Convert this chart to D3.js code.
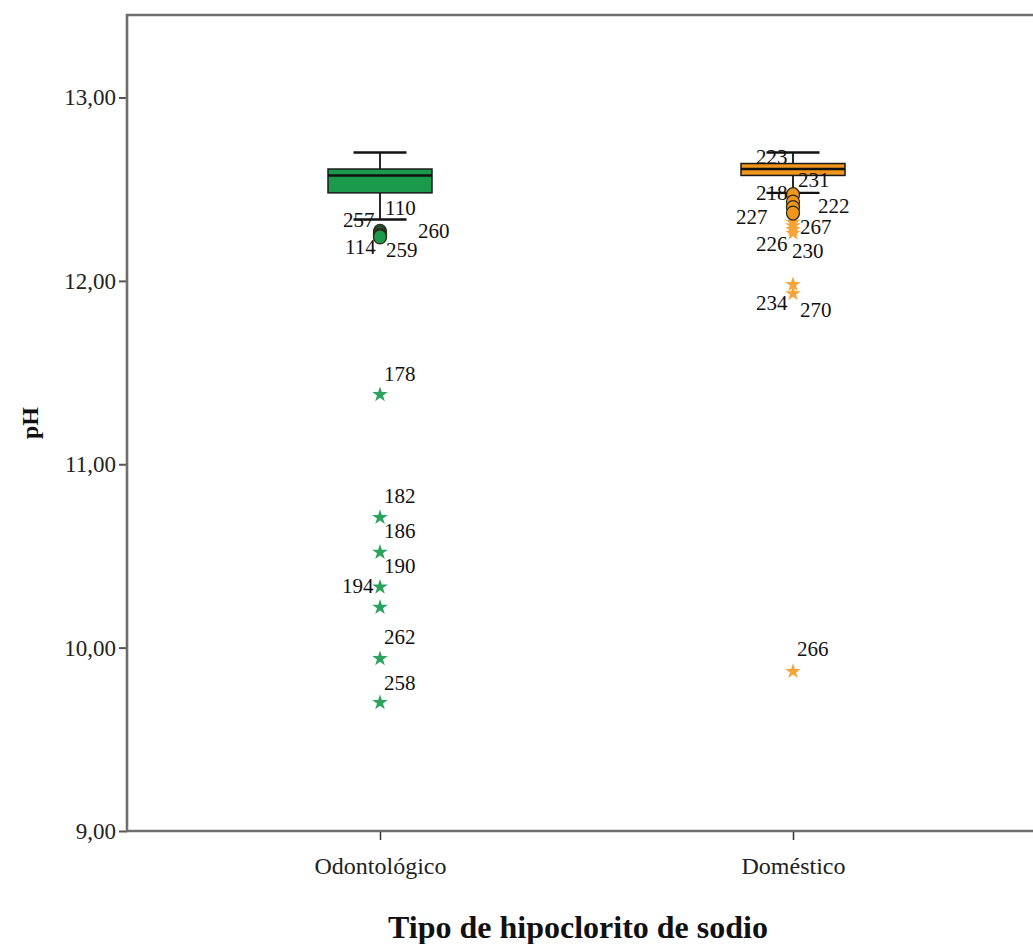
<!doctype html>
<html lang="es">
<head>
  <meta charset="utf-8">
  <title>pH por tipo de hipoclorito</title>
  <style>
    body { margin: 0; background: #fff; }
    svg text { font-family: "Liberation Serif", "DejaVu Serif", serif; }
  </style>
</head>
<body>
  <svg></svg>
  <script src="https://cdn.jsdelivr.net/npm/d3@7"></script>
  <script>
    const width = 1033;
    const height = 944;
    const margin = { top: 15, right: -13, bottom: 113, left: 127 };

    // datos
    const categories = ['Odontológico', 'Doméstico'];
    const whiskerLow = [12.335, 12.48];
    const q1 = [12.48, 12.575];
    const median = [12.575, 12.61];
    const q3 = [12.61, 12.64];
    const whiskerHigh = [12.70, 12.70];
    const yTicks = [9, 10, 11, 12, 13];

    // valores atípicos (círculos) y extremos (estrellas): [categoría, valor, caso]
    const outliers = [
      ['Odontológico', 12.27, '257'],
      ['Odontológico', 12.26, '110'],
      ['Odontológico', 12.25, '260'],
      ['Odontológico', 12.245, '114'],
      ['Odontológico', 12.24, '259'],
      ['Doméstico', 12.47, '223'],
      ['Doméstico', 12.43, '231'],
      ['Doméstico', 12.40, '218'],
      ['Doméstico', 12.37, '222']
    ];
    const extremes = [
      ['Odontológico', 11.38, '178'],
      ['Odontológico', 10.71, '182'],
      ['Odontológico', 10.52, '186'],
      ['Odontológico', 10.33, '190'],
      ['Odontológico', 10.22, '194'],
      ['Odontológico', 9.94, '262'],
      ['Odontológico', 9.70, '258'],
      ['Doméstico', 12.32, '227'],
      ['Doméstico', 12.30, '267'],
      ['Doméstico', 12.28, '226'],
      ['Doméstico', 12.26, '230'],
      ['Doméstico', 11.98, '234'],
      ['Doméstico', 11.93, '270'],
      ['Doméstico', 9.87, '266']
    ];

    // desplazamiento de las etiquetas de caso (como las coloca SPSS)
    const labelOffset = {
      '257': [-37, -4], '110': [5, -18], '260': [38, 3], '114': [-35, 18], '259': [6, 20],
      '178': [4, -14], '182': [4, -14], '186': [4, -14], '190': [4, -14], '194': [-38, -14],
      '262': [4, -15], '258': [4, -13],
      '223': [-37, -31], '231': [5, -15], '218': [-37, -8], '222': [25, 0],
      '227': [-57, 2], '267': [7, 8], '226': [-37, 21], '230': [-1, 25],
      '234': [-37, 25], '270': [7, 23], '266': [4, -15]
    };

    const fills = { 'Odontológico': '#1c9a4b', 'Doméstico': '#f0961c' };
    const starFills = { 'Odontológico': '#2aa35c', 'Doméstico': '#f7a338' };

    const svg = d3.select('svg')
      .attr('width', width)
      .attr('height', height)
      .attr('viewBox', [0, 0, width, height]);

    const x = d3.scalePoint()
      .domain(categories)
      .range([margin.left, width - margin.right])
      .padding(0.6126);

    const y = d3.scaleLinear()
      .domain([9, 13.45])
      .range([height - margin.bottom, margin.top]);

    const boxWidth = 104;
    const capWidth = 53;

    // eje Y
    svg.append('g')
      .attr('transform', 'translate(' + margin.left + ',0)')
      .call(d3.axisLeft(y).tickValues(yTicks).tickSize(8).tickPadding(3)
        .tickFormat(d => d3.format('.2f')(d).replace('.', ',')))
      .call(g => g.select('.domain').remove())
      .call(g => g.selectAll('.tick line').attr('stroke', '#555').attr('stroke-width', 2))
      .call(g => g.selectAll('.tick text')
        .style('font-family', '"Liberation Serif", serif')
        .style('font-size', '23px').attr('fill', '#222'));

    // eje X
    svg.append('g')
      .attr('transform', 'translate(0,' + (height - margin.bottom) + ')')
      .call(d3.axisBottom(x).tickSize(9).tickPadding(17))
      .call(g => g.select('.domain').remove())
      .call(g => g.selectAll('.tick line').attr('stroke', '#333').attr('stroke-width', 1.5))
      .call(g => g.selectAll('.tick text')
        .style('font-family', '"Liberation Serif", serif')
        .style('font-size', '24px').attr('fill', '#222'));

    // marco
    svg.append('path')
      .attr('d', 'M' + width + ',' + margin.top + 'H' + margin.left + 'V' + (height - margin.bottom) + 'H' + width)
      .attr('fill', 'none')
      .attr('stroke', '#6e6e6e')
      .attr('stroke-width', 2.6);

    // cajas
    const box = svg.append('g').selectAll('g')
      .data(categories)
      .join('g');

    box.append('line')
      .attr('x1', d => x(d)).attr('x2', d => x(d))
      .attr('y1', (d, i) => y(whiskerHigh[i])).attr('y2', (d, i) => y(q3[i]))
      .attr('stroke', '#111').attr('stroke-width', 1.8);
    box.append('line')
      .attr('x1', d => x(d)).attr('x2', d => x(d))
      .attr('y1', (d, i) => y(q1[i])).attr('y2', (d, i) => y(whiskerLow[i]))
      .attr('stroke', '#111').attr('stroke-width', 1.8);
    box.selectAll('.cap')
      .data((d, i) => [[d, whiskerHigh[i]], [d, whiskerLow[i]]])
      .join('line')
      .attr('class', 'cap')
      .attr('x1', d => x(d[0]) - capWidth / 2).attr('x2', d => x(d[0]) + capWidth / 2)
      .attr('y1', d => y(d[1])).attr('y2', d => y(d[1]))
      .attr('stroke', '#111').attr('stroke-width', 2.4);
    box.append('rect')
      .attr('x', d => x(d) - boxWidth / 2)
      .attr('width', boxWidth)
      .attr('y', (d, i) => y(q3[i]))
      .attr('height', (d, i) => y(q1[i]) - y(q3[i]))
      .attr('fill', d => fills[d])
      .attr('stroke', '#1a1a1a').attr('stroke-width', 1.5);
    box.append('line')
      .attr('x1', d => x(d) - boxWidth / 2).attr('x2', d => x(d) + boxWidth / 2)
      .attr('y1', (d, i) => y(median[i])).attr('y2', (d, i) => y(median[i]))
      .attr('stroke', '#111').attr('stroke-width', 2.6);

    // estrellas (extremos)
    svg.append('g').selectAll('path')
      .data(extremes)
      .join('path')
      .attr('d', d3.symbol(d3.symbolStar, 75))
      .attr('transform', d => 'translate(' + x(d[0]) + ',' + y(d[1]) + ')')
      .attr('fill', d => starFills[d[0]]);

    // círculos (atípicos)
    svg.append('g').selectAll('ellipse')
      .data(outliers)
      .join('ellipse')
      .attr('cx', d => x(d[0]))
      .attr('cy', d => y(d[1]))
      .attr('rx', 6.5).attr('ry', 7)
      .attr('fill', d => fills[d[0]])
      .attr('stroke', '#2a2a1a').attr('stroke-width', 1.3);

    // etiquetas de caso
    svg.append('g').selectAll('text')
      .data(outliers.concat(extremes))
      .join('text')
      .attr('x', d => x(d[0]) + labelOffset[d[2]][0])
      .attr('y', d => y(d[1]) + labelOffset[d[2]][1])
      .style('font-size', '21px')
      .attr('fill', '#111')
      .text(d => d[2]);

    // títulos de ejes
    svg.append('text')
      .attr('transform', 'translate(38,' + ((margin.top + height - margin.bottom) / 2) + ') rotate(-90)')
      .attr('text-anchor', 'middle')
      .attr('font-weight', 'bold')
      .style('font-size', '24px')
      .attr('fill', '#111')
      .text('pH');

    svg.append('text')
      .attr('x', 578)
      .attr('y', 938)
      .attr('text-anchor', 'middle')
      .attr('font-weight', 'bold')
      .style('font-size', '32px')
      .attr('fill', '#111')
      .text('Tipo de hipoclorito de sodio');
  </script>
</body>
</html>
